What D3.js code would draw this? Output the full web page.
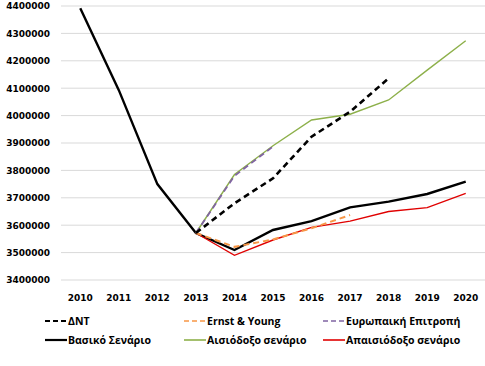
<!DOCTYPE html>
<html>
<head>
<meta charset="utf-8">
<script src="https://cdn.jsdelivr.net/npm/d3@7"></script>
<style>
  body { margin: 0; background: #fff; }
  .tick text { font-family: "DejaVu Sans", sans-serif; font-weight: bold; font-size: 9px; fill: #000; }
  .leg { font-family: "Open Sans", sans-serif; font-weight: bold; font-size: 10.5px; fill: #000; }
</style>
</head>
<body>
<div id="chart"></div>
<script>
// data
const years = ["2010","2011","2012","2013","2014","2015","2016","2017","2018","2019","2020"];
const yTicks = [3400000,3500000,3600000,3700000,3800000,3900000,4000000,4100000,4200000,4300000,4400000];

const dnt      = [null,null,null,3571500,3680000,3771000,3923000,4014000,4136000,null,null];
const ernst    = [null,null,null,3571500,3521000,3548000,3589000,3637000,null,null,null];
const europe   = [null,null,null,3571500,3780000,3887000,null,null,null,null,null];
const vasiko   = [4392000,4093000,3750000,3571500,3509500,3582500,3615000,3665000,3686000,3714000,3759000];
const aisiodoxo = [null,null,null,3571500,3785000,3890000,3984000,4005000,4057000,4166000,4273000];
const apaisio  = [null,null,null,3571500,3490000,3546000,3592000,3615000,3650000,3664000,3716000];

const seriesNames = ["ΔΝΤ","Ernst & Young","Ευρωπαική Επιτροπή","Βασικό Σενάριο","Αισιόδοξο σενάριο","Απαισιόδοξο σενάριο"];

const width = 485, height = 366;
const margin = { top: 6, right: 0, bottom: 86, left: 61 };

const svg = d3.select("#chart").append("svg")
  .attr("width", width).attr("height", height);

const x = d3.scaleBand().domain(years)
  .range([margin.left, width - margin.right]);
const y = d3.scaleLinear().domain([3400000, 4400000])
  .range([height - margin.bottom, margin.top]);

// gridlines
svg.append("g").selectAll("line").data(yTicks).enter().append("line")
  .attr("x1", margin.left).attr("x2", width - margin.right)
  .attr("y1", d => y(d)).attr("y2", d => y(d))
  .attr("stroke", "#d9d9d9").attr("stroke-width", 1);

// y axis
const yAxis = svg.append("g")
  .attr("transform", "translate(" + margin.left + ",0)")
  .call(d3.axisLeft(y).tickValues(yTicks).tickSize(0).tickPadding(11).tickFormat(d3.format("d")));
yAxis.select(".domain").remove();

// x axis
const xAxis = svg.append("g")
  .attr("transform", "translate(0," + (y(3400000) + 10) + ")")
  .call(d3.axisBottom(x).tickSize(0).tickPadding(5));
xAxis.select(".domain").remove();

const styles = [
  { data: dnt,       color: "#000000", w: 2.6, dash: "6,4" },
  { data: ernst,     color: "#f79646", w: 2,   dash: "6,4" },
  { data: europe,    color: "#8064a2", w: 1.8, dash: "6,4" },
  { data: vasiko,    color: "#000000", w: 2.4, dash: null },
  { data: aisiodoxo, color: "#8db04a", w: 1.4, dash: null },
  { data: apaisio,   color: "#e00000", w: 1.4, dash: null }
];

const line = d3.line()
  .defined(d => d != null)
  .x((d, i) => x(years[i]) + x.bandwidth() / 2)
  .y(d => y(d));

// draw order: solid ones first, forecasts on top
[3, 5, 1, 4, 2, 0].forEach(function (k) {
  const s = styles[k];
  svg.append("path")
    .datum(s.data)
    .attr("fill", "none")
    .attr("stroke", s.color)
    .attr("stroke-width", s.w)
    .attr("stroke-dasharray", s.dash)
    .attr("d", line);
});

// legend
const legX = [45, 184, 323];
const legY = [321, 340];
const leg = svg.append("g");
styles.forEach(function (s, i) {
  const lx = legX[i % 3], ly = legY[Math.floor(i / 3)];
  leg.append("line")
    .attr("x1", lx).attr("x2", lx + 22)
    .attr("y1", ly).attr("y2", ly)
    .attr("stroke", s.color)
    .attr("stroke-width", s.color == "#000000" ? 2.2 : 1.6)
    .attr("stroke-dasharray", s.dash ? "5,3" : null);
  leg.append("text")
    .attr("class", "leg")
    .attr("x", lx + 23).attr("y", ly + 4)
    .text(seriesNames[i]);
});
</script>
</body>
</html>
